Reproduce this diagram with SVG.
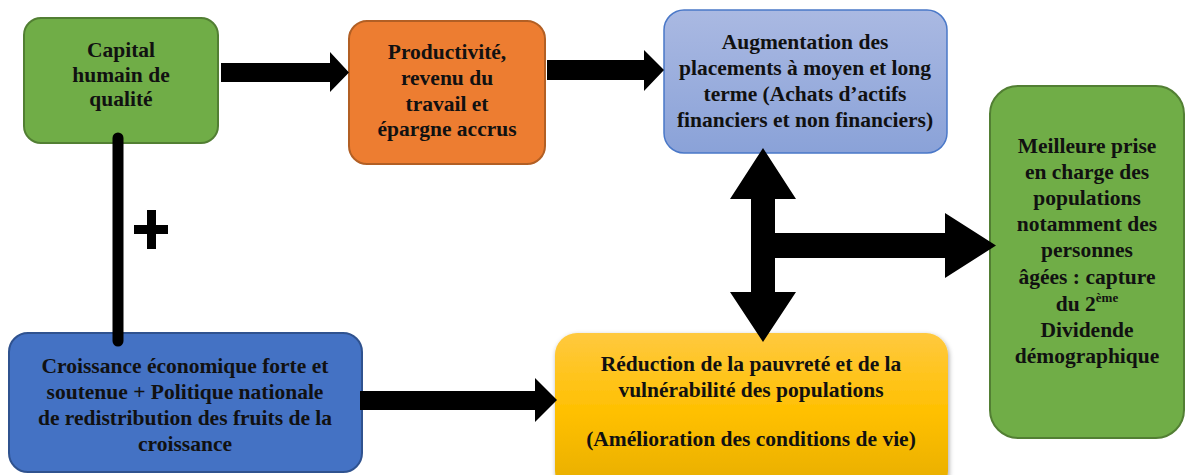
<svg xmlns="http://www.w3.org/2000/svg" width="1185" height="475" viewBox="0 0 1185 475">
<defs>
<linearGradient id="gBlue" x1="0" y1="0" x2="0" y2="1">
<stop offset="0" stop-color="#AAB9E2"/>
<stop offset="1" stop-color="#8AA2D8"/>
</linearGradient>
<linearGradient id="gYellow" x1="0" y1="0" x2="0" y2="1">
<stop offset="0" stop-color="#FFC93F"/>
<stop offset="0.5" stop-color="#FFC000"/>
<stop offset="1" stop-color="#E6AD00"/>
</linearGradient>
<filter id="shadow" x="-10%" y="-10%" width="120%" height="130%">
<feDropShadow dx="1" dy="2" stdDeviation="2.5" flood-color="#000" flood-opacity="0.35"/>
</filter>
</defs>
<style>
text{font-family:"Liberation Serif","Times New Roman",serif;font-weight:bold;font-size:21.5px;fill:#111;text-anchor:middle}
.sup{font-size:13px}
.arrow{fill:#000}
</style>
<rect width="1185" height="475" fill="#fff"/>
<g id="capital">
<rect x="24" y="18" width="194" height="125" rx="17" fill="#70AD47" stroke="#527F33" stroke-width="2"/>
<text x="121" y="57">Capital</text>
<text x="121" y="82">humain de</text>
<text x="121" y="106">qualité</text>
</g>
<g id="productivite">
<rect x="349" y="21" width="196" height="143" rx="18" fill="#ED7D31" stroke="#B25F24" stroke-width="2"/>
<text x="447" y="59">Productivité,</text>
<text x="447" y="85">revenu du</text>
<text x="447" y="111">travail et</text>
<text x="447" y="136">épargne accrus</text>
</g>
<g id="augmentation">
<rect x="664" y="10" width="283" height="143" rx="20" fill="url(#gBlue)" stroke="#4A78C8" stroke-width="1.5"/>
<text x="805" y="49">Augmentation des</text>
<text x="805" y="75">placements à moyen et long</text>
<text x="805" y="101">terme (Achats d’actifs</text>
<text x="805" y="127">financiers et non financiers)</text>
</g>
<g id="meilleure">
<rect x="990" y="86" width="194" height="352" rx="28" fill="#70AD47" stroke="#527F33" stroke-width="2"/>
<text x="1087" y="153">Meilleure prise</text>
<text x="1087" y="179">en charge des</text>
<text x="1087" y="205">populations</text>
<text x="1087" y="231">notamment des</text>
<text x="1087" y="257">personnes</text>
<text x="1087" y="284">âgées : capture</text>
<text x="1087" y="311">du 2<tspan class="sup" dy="-9">ème</tspan></text>
<text x="1087" y="337">Dividende</text>
<text x="1087" y="363">démographique</text>
</g>
<g id="croissance">
<rect x="9" y="333" width="353" height="139" rx="19" fill="#4472C4" stroke="#2F528F" stroke-width="2"/>
<text x="185" y="373">Croissance économique forte et</text>
<text x="185" y="399">soutenue + Politique nationale</text>
<text x="185" y="425">de redistribution des fruits de la</text>
<text x="185" y="451">croissance</text>
</g>
<g id="reduction">
<rect x="555" y="333" width="393" height="160" rx="22" fill="url(#gYellow)" filter="url(#shadow)"/>
<text x="751" y="371">Réduction de la pauvreté et de la</text>
<text x="751" y="397">vulnérabilité des populations</text>
<text x="751" y="446">(Amélioration des conditions de vie)</text>
</g>
<g id="connectors">
<line x1="118" y1="138" x2="118" y2="341" stroke="#000" stroke-width="11" stroke-linecap="round"/>
<polygon class="arrow" points="134,225 147,225 147,210 156,210 156,225 168,225 168,234 156,234 156,249 147,249 147,234 134,234"/>
<polygon class="arrow" points="221,63 330,63 330,52 349,72.5 330,92 330,82 221,82"/>
<polygon class="arrow" points="547,60 644,60 644,50 664,70 644,91 644,80 547,80"/>
<polygon class="arrow" points="360,391 535,391 535,378 557,400 535,422 535,410 360,410"/>
<polygon class="arrow" points="763,148 796,199 775,199 775,233 945,233 945,213 996,245.5 945,278 945,258 775,258 775,292 796,292 763,342 730,292 751,292 751,199 730,199"/>
</g>
</svg>
